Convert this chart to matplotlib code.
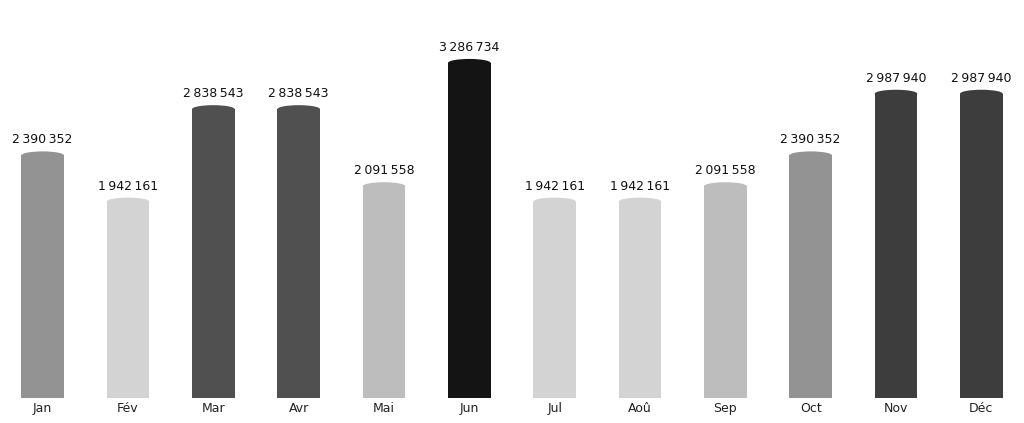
import matplotlib
matplotlib.use("Agg")
import matplotlib.pyplot as plt
from matplotlib.patches import Ellipse

months = ["Jan", "Fév", "Mar", "Avr", "Mai", "Jun", "Jul", "Aoû", "Sep", "Oct", "Nov", "Déc"]
values = [2390352, 1942161, 2838543, 2838543, 2091558, 3286734,
          1942161, 1942161, 2091558, 2390352, 2987940, 2987940]
colors = ["#939393", "#d3d3d3", "#505050", "#505050", "#bdbdbd", "#141414",
          "#d3d3d3", "#d3d3d3", "#bdbdbd", "#939393", "#3d3d3d", "#3d3d3d"]


def fmt(v):
    # French style thousands, narrow no-break space
    return "{:,}".format(v).replace(",", "\u202f")


fig = plt.figure(figsize=(10.24, 4.23), dpi=100)
ax = fig.add_axes([0, 25 / 423, 1, 398 / 423])

ymax = 3.858e6
ax.set_xlim(-0.5, len(months) - 0.5)
ax.set_ylim(0, ymax)

width = 0.5
# cap height, about 8 px in data units
cap = ymax / 398 * 8

for i, (v, c) in enumerate(zip(values, colors)):
    ax.bar(i, v - cap / 2, width=width, color=c, edgecolor="none")
    ax.add_patch(Ellipse((i, v - cap / 2), width, cap, color=c, linewidth=0))
    ax.text(i, v + ymax / 398 * 5, fmt(v), ha="center", va="bottom",
            fontsize=9, color="#111111")

ax.set_xticks(range(len(months)))
ax.set_xticklabels(months, fontsize=9, color="#222222")
ax.tick_params(axis="x", length=0, pad=3)
ax.set_yticks([])
for s in ax.spines.values():
    s.set_visible(False)

fig.savefig("out.png", dpi=100)
